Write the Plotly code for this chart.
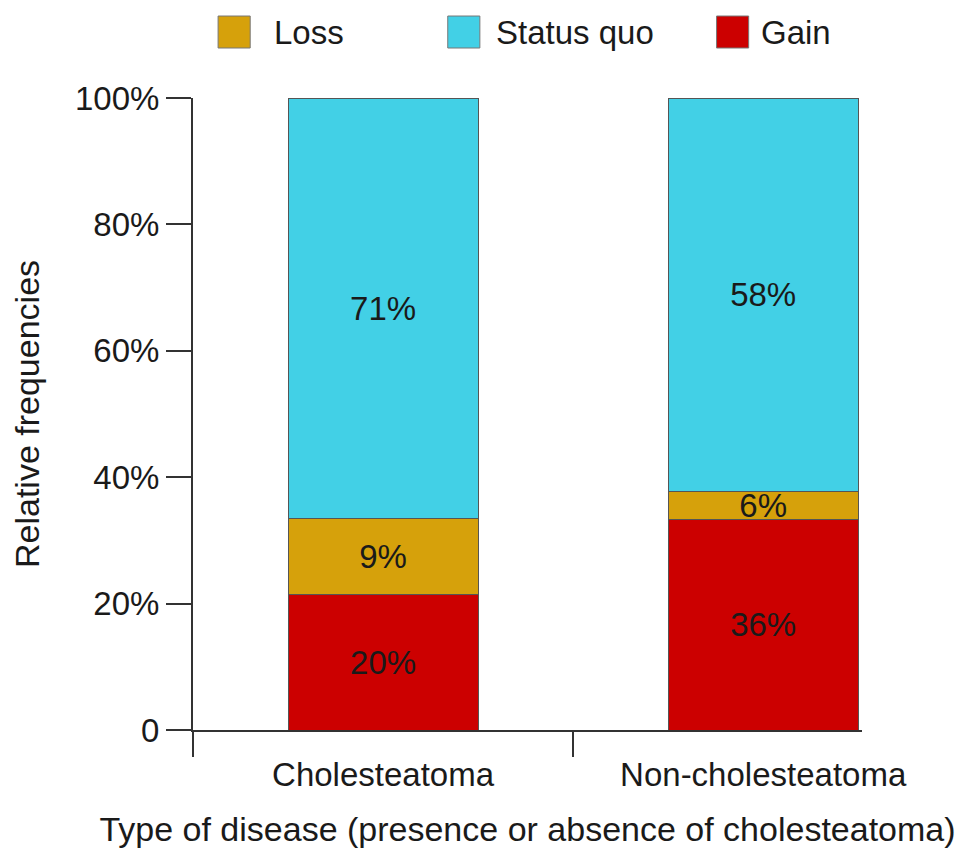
import plotly.graph_objects as go

categories = ["Cholesteatoma", "Non-cholesteatoma"]
series_names = ["Gain", "Loss", "Status quo"]
gain_values = [21.4, 33.3]
loss_values = [12.1, 4.5]
status_values = [66.5, 62.2]
gain_labels = ["20%", "36%"]
loss_labels = ["9%", "6%"]
status_labels = ["71%", "58%"]
colors = {"Gain": "#CC0000", "Loss": "#D6A10B", "Status quo": "#42D0E6"}
y_tickvals = [0, 20, 40, 60, 80, 100]
y_ticktext = ["0", "20%", "40%", "60%", "80%", "100%"]
legend_order = ["Loss", "Status quo", "Gain"]

FONT = "Liberation Sans, Arial, Helvetica, sans-serif"
FS = 33
FT = 34
AX = "#333333"

fig = go.Figure()
for name, vals, labs in [("Gain", gain_values, gain_labels),
                         ("Loss", loss_values, loss_labels),
                         ("Status quo", status_values, status_labels)]:
    fig.add_trace(go.Bar(
        x=categories, y=vals, name=name, text=labs,
        textposition="inside", insidetextanchor="middle", textangle=0,
        textfont=dict(family=FONT, size=FS, color="#1a1a1a"),
        marker=dict(color=colors[name], line=dict(color="#555555", width=1)),
        width=0.5, showlegend=False, hoverinfo="skip",
    ))

# manual legend (large square keys as in the reference)
key_x = [0.0375, 0.3808, 0.7826]
text_x = [0.1184, 0.4498, 0.8456]
for i, name in enumerate(legend_order):
    fig.add_shape(type="rect", xref="paper", yref="paper",
                  x0=key_x[i], x1=key_x[i] + 0.048, y0=1.0791, y1=1.1297,
                  fillcolor=colors[name], line=dict(color="#777777", width=1))
    fig.add_annotation(text=name, xref="paper", yref="paper", x=text_x[i], y=1.1044,
                       xanchor="left", yanchor="middle", showarrow=False,
                       font=dict(family=FONT, size=FS, color="#1a1a1a"))

# end tick at right of x axis
fig.add_shape(type="line", xref="x domain", yref="y", x0=1, x1=1,
              ysizemode="pixel", yanchor=0, y0=0, y1=-25,
              line=dict(color=AX, width=2))

fig.update_layout(
    barmode="stack", width=969, height=861,
    margin=dict(l=185, r=115, t=90, b=139),
    paper_bgcolor="white", plot_bgcolor="white",
    font=dict(family=FONT, size=FS, color="#1a1a1a"),
    uniformtext=dict(minsize=FS, mode="show"),
)
fig.update_xaxes(
    range=[-0.5, 1.26], showline=True, linecolor=AX, linewidth=2,
    ticks="outside", ticklen=25, tickwidth=2, tickcolor=AX, tickson="boundaries",
    ticklabelstandoff=14, automargin=False,
    showgrid=False, tickfont=dict(family=FONT, size=FS, color="#1a1a1a"),
    title=dict(text="Type of disease (presence or absence of cholesteatoma)",
               font=dict(family=FONT, size=FT, color="#1a1a1a"), standoff=26),
)
fig.update_yaxes(
    range=[0, 100], showline=True, linecolor=AX, linewidth=2,
    tickvals=y_tickvals, ticktext=y_ticktext, automargin=False,
    ticks="outside", ticklen=25, tickwidth=2, tickcolor=AX,
    showgrid=False, zeroline=False, tickfont=dict(family=FONT, size=FS, color="#1a1a1a"),
    title=dict(text="Relative frequencies",
               font=dict(family=FONT, size=FT, color="#1a1a1a"), standoff=28),
)

fig.write_html("out.html")
